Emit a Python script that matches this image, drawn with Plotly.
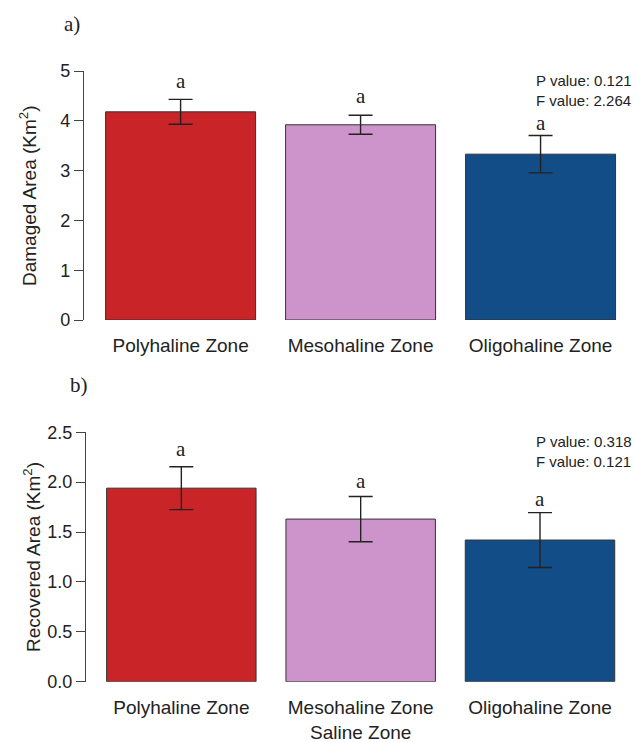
import plotly.graph_objects as go

categories = ["Polyhaline Zone", "Mesohaline Zone", "Oligohaline Zone"]
bar_pos = [0.7, 1.9, 3.1]
colors = ["#C92428", "#CC94CA", "#124D88"]

damaged_mean = [4.18, 3.92, 3.33]
damaged_err = [0.25, 0.19, 0.375]
recovered_mean = [1.94, 1.63, 1.42]
recovered_err = [0.215, 0.227, 0.275]
letters_top = ["a", "a", "a"]
letters_bot = ["a", "a", "a"]

# letter offsets above error bars (px) - styling only
shift_top = [18, 19, 12]
shift_bot = [18, 15, 14]

W, H = 634, 742
SANS = "Liberation Sans, Arial, sans-serif"
SERIF = "Liberation Serif, Times New Roman, serif"

fig = go.Figure()

for i in range(3):
    fig.add_trace(go.Bar(
        x=[bar_pos[i]], y=[damaged_mean[i]], width=1.0,
        marker=dict(color=colors[i], line=dict(color="#333333", width=1)),
        error_y=dict(type="data", array=[damaged_err[i]], visible=True,
                     color="#222222", thickness=1.4, width=12),
        xaxis="x", yaxis="y", showlegend=False, hoverinfo="skip"))
    fig.add_trace(go.Bar(
        x=[bar_pos[i]], y=[recovered_mean[i]], width=1.0,
        marker=dict(color=colors[i], line=dict(color="#333333", width=1)),
        error_y=dict(type="data", array=[recovered_err[i]], visible=True,
                     color="#222222", thickness=1.4, width=12),
        xaxis="x2", yaxis="y2", showlegend=False, hoverinfo="skip"))

annotations = []
for i in range(3):
    annotations.append(dict(x=bar_pos[i], y=damaged_mean[i] + damaged_err[i],
                            xref="x", yref="y", text=letters_top[i], showarrow=False,
                            yanchor="middle", yshift=shift_top[i],
                            font=dict(family=SERIF, size=21, color="#222222")))
    annotations.append(dict(x=bar_pos[i], y=recovered_mean[i] + recovered_err[i],
                            xref="x2", yref="y2", text=letters_bot[i], showarrow=False,
                            yanchor="middle", yshift=shift_bot[i],
                            font=dict(family=SERIF, size=21, color="#222222")))

def px(xp):
    return xp / W

def py(yp):
    return 1 - yp / H

# Panel labels
annotations.append(dict(x=px(62), y=py(24), xref="paper", yref="paper", text="a)",
                        showarrow=False, xanchor="left", yanchor="middle",
                        font=dict(family=SERIF, size=21, color="#222222")))
annotations.append(dict(x=px(68), y=py(385), xref="paper", yref="paper", text="b)",
                        showarrow=False, xanchor="left", yanchor="middle",
                        font=dict(family=SERIF, size=21, color="#222222")))

# Stats text
stats = [("P value: 0.121", 80), ("F value: 2.264", 100),
         ("P value: 0.318", 441.5), ("F value: 0.121", 461)]
for txt, yy in stats:
    annotations.append(dict(x=px(534), y=py(yy), xref="paper", yref="paper", text=txt,
                            showarrow=False, xanchor="left", yanchor="middle",
                            font=dict(family=SANS, size=15, color="#222222")))

# Y titles
annotations.append(dict(x=px(28), y=py(196), xref="paper", yref="paper",
                        text="Damaged Area (Km<sup>2</sup>)", textangle=-90,
                        showarrow=False, xanchor="center", yanchor="middle",
                        font=dict(family=SANS, size=19, color="#222222")))
annotations.append(dict(x=px(32), y=py(557), xref="paper", yref="paper",
                        text="Recovered Area (Km<sup>2</sup>)", textangle=-90,
                        showarrow=False, xanchor="center", yanchor="middle",
                        font=dict(family=SANS, size=19, color="#222222")))
# X title
annotations.append(dict(x=px(360), y=py(732), xref="paper", yref="paper",
                        text="Saline Zone", showarrow=False,
                        xanchor="center", yanchor="middle",
                        font=dict(family=SANS, size=19, color="#222222")))

axis_common = dict(showgrid=False, zeroline=False, automargin=False)

fig.update_layout(
    template="none",
    width=W, height=H,
    margin=dict(l=0, r=0, t=0, b=0, pad=0),
    paper_bgcolor="white", plot_bgcolor="white",
    barmode="overlay",
    annotations=annotations,
    xaxis=dict(domain=[px(84), 1], range=[0.056, 3.723], tickvals=bar_pos,
               ticktext=categories, ticks="outside", ticklen=8,
               tickcolor="rgba(0,0,0,0)", showline=False,
               tickfont=dict(family=SANS, size=19, color="#222222"),
               anchor="y", **axis_common),
    yaxis=dict(domain=[py(320), py(71)], range=[0, 5], tickvals=[0, 1, 2, 3, 4, 5],
               ticks="outside", ticklen=9, tickcolor="#444444", tickwidth=1.2,
               showline=True, linecolor="#444444", linewidth=1.2,
               tickfont=dict(family=SANS, size=18, color="#222222"),
               anchor="x", **axis_common),
    xaxis2=dict(domain=[px(86), 1], range=[0.062, 3.729], tickvals=bar_pos,
                ticktext=categories, ticks="outside", ticklen=8,
                tickcolor="rgba(0,0,0,0)", showline=False,
                tickfont=dict(family=SANS, size=19, color="#222222"),
                anchor="y2", **axis_common),
    yaxis2=dict(domain=[py(681.7), py(432.3)], range=[0, 2.5],
                tickvals=[0, 0.5, 1.0, 1.5, 2.0, 2.5],
                ticktext=["0.0", "0.5", "1.0", "1.5", "2.0", "2.5"],
                ticks="outside", ticklen=9, tickcolor="#444444", tickwidth=1.2,
                showline=True, linecolor="#444444", linewidth=1.2,
                tickfont=dict(family=SANS, size=18, color="#222222"),
                anchor="x2", **axis_common),
)

fig.write_html("out.html", config={"displayModeBar": False},
               post_script="document.body.style.margin='0';document.body.style.overflow='hidden';")
